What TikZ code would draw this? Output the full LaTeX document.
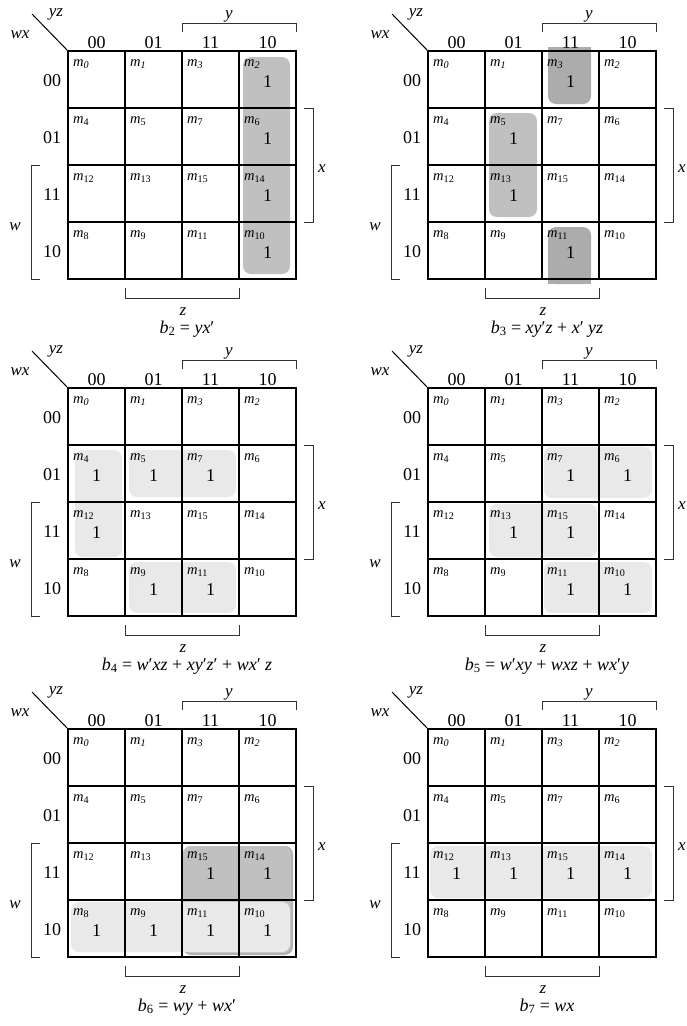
\documentclass[tikz,border=0pt]{standalone}
\usepackage{fontspec}
\setmainfont{Liberation Serif}
\definecolor{hlmid}{RGB}{192,192,192}
\definecolor{hldark}{RGB}{172,172,172}
\definecolor{hllight}{RGB}{233,233,233}
\definecolor{hledge}{RGB}{178,178,178}
\tikzset{
  gridline/.style={line width=1.7pt, line cap=rect},
  brk/.style={line width=0.8pt, black!80},
  lab/.style={font=\fontsize{18}{20}\selectfont, inner sep=0pt, anchor=base},
  var/.style={font=\fontsize{17}{19}\selectfont\itshape, inner sep=0pt, anchor=base},
  mlab/.style={font=\fontsize{14.5}{15}\selectfont, inner sep=0pt, anchor=base west},
  one/.style={font=\fontsize{18}{20}\selectfont, inner sep=0pt, anchor=base},
  formula/.style={font=\fontsize{18}{20}\selectfont, inner sep=0pt, anchor=base},
}
% #1 prefix, #2 list of ones c/r, #3 formula
\newcommand\kmapbody[3]{%
  \foreach \i in {0,...,4} {
    \draw[gridline] (\i*57,0) -- (\i*57,228);
    \draw[gridline] (0,\i*57) -- (228,\i*57);
  }
  \coordinate (#1-dg) at (-36,-37);
  \coordinate (#1-o) at (0,0);
  \draw[line width=1pt] (#1-dg) -- (#1-o);
  \node[var] (#1-yz) at (-12,-35) {yz};
  \node[var] (#1-wx) at (-48,-13) {wx};
  \foreach \t [count=\k from 0] in {00,01,11,10} {
    \node[lab] (#1-col\k) at (\k*57+28.5,-3) {\t};
    \node[lab] (#1-row\k) at (-16,\k*57+35) {\t};
  }
  \foreach \c/\r/\m in {0/0/{\textit{0}},1/0/{\textit{1}},2/0/{\textit{3}},3/0/{\textit{2}},
      0/1/4,1/1/5,2/1/7,3/1/6,0/2/12,1/2/13,2/2/15,3/2/14,0/3/8,1/3/9,2/3/11,3/3/10} {
    \node[mlab] (#1-m\c\r) at (\c*57+5,\r*57+15) {\textit{m}\textsubscript{\m}};
  }
  \foreach \c/\r in {#2} {
    \node[one] (#1-one\c\r) at (\c*57+28.5,\r*57+36) {1};
  }
  % y bracket
  \coordinate (#1-ya) at (114,-19); \coordinate (#1-yb) at (114,-28);
  \coordinate (#1-yc) at (228,-28); \coordinate (#1-yd) at (228,-19);
  \draw[brk] (#1-ya) -- (#1-yb) -- (#1-yc) -- (#1-yd);
  \node[var] (#1-y) at (161,-33) {y};
  % x bracket
  \coordinate (#1-xa) at (236,57); \coordinate (#1-xb) at (245,57);
  \coordinate (#1-xc) at (245,171); \coordinate (#1-xd) at (236,171);
  \draw[brk] (#1-xa) -- (#1-xb) -- (#1-xc) -- (#1-xd);
  \node[var] (#1-x) at (254,121) {x};
  % w bracket
  \coordinate (#1-wa) at (-28,114); \coordinate (#1-wb) at (-37,114);
  \coordinate (#1-wc) at (-37,228); \coordinate (#1-wd) at (-28,228);
  \draw[brk] (#1-wa) -- (#1-wb) -- (#1-wc) -- (#1-wd);
  \node[var] (#1-w) at (-53,179) {w};
  % z bracket
  \coordinate (#1-za) at (57,237); \coordinate (#1-zb) at (57,247);
  \coordinate (#1-zc) at (171,247); \coordinate (#1-zd) at (171,237);
  \draw[brk] (#1-za) -- (#1-zb) -- (#1-zc) -- (#1-zd);
  \node[var] (#1-z) at (115,264) {z};
  \node[formula] (#1-f) at (119,282) {#3};
}
\newcommand\vb[1]{\textit{#1}}
\begin{document}
\begin{tikzpicture}[x=1pt,y=-1pt]
\useasboundingbox (0,0) rectangle (686,1026);
\fill[white] (0,0) rectangle (686,1026);
% ---------- b2 ----------
\begin{scope}[shift={(68,51)}]
  \fill[hlmid, rounded corners=8pt] (175,6) rectangle (222,223);
  \kmapbody{a}{3/0,3/1,3/2,3/3}{\vb{b}\textsubscript{2} = \vb{yx}′}
\end{scope}
% ---------- b3 ----------
\begin{scope}[shift={(428,51)}]
  \fill[hldark, rounded corners=8pt] (120,-4) rectangle (163,53);
  \fill[hldark] (120,-4) rectangle (163,20);
  \fill[hldark, rounded corners=8pt] (120,176) rectangle (163,233);
  \fill[hldark] (120,200) rectangle (163,233);
  \fill[hlmid, rounded corners=8pt] (61,62) rectangle (109,166);
  \kmapbody{b}{2/0,1/1,1/2,2/3}{\vb{b}\textsubscript{3} = \vb{xy}′\vb{z} + \vb{x}′ \vb{yz}}
\end{scope}
% ---------- b4 ----------
\begin{scope}[shift={(68,388)}]
  \fill[hllight, rounded corners=8pt] (7,62) rectangle (54,169);
  \fill[hllight, rounded corners=8pt] (61,62) rectangle (168,109);
  \fill[hllight, rounded corners=8pt] (61,174) rectangle (168,225);
  \kmapbody{c}{0/1,1/1,2/1,0/2,1/3,2/3}{\vb{b}\textsubscript{4} = \vb{w}′\vb{xz} + \vb{xy}′\vb{z}′ + \vb{wx}′ \vb{z}}
\end{scope}
% ---------- b5 ----------
\begin{scope}[shift={(428,388)}]
  \fill[hllight, rounded corners=8pt] (116,59) rectangle (224,110);
  \fill[hllight, rounded corners=8pt] (61,116) rectangle (169,169);
  \fill[hllight, rounded corners=8pt] (116,174) rectangle (224,225);
  \kmapbody{d}{2/1,3/1,1/2,2/2,2/3,3/3}{\vb{b}\textsubscript{5} = \vb{w}′\vb{xy} + \vb{wxz} + \vb{wx}′\vb{y}}
\end{scope}
% ---------- b6 ----------
\begin{scope}[shift={(68,729)}]
  \fill[hledge, rounded corners=8pt] (115,117) rectangle (225,226);
  \fill[hlmid, rounded corners=8pt] (115,117) rectangle (223,224);
  \fill[hllight, rounded corners=8pt] (3,173) rectangle (222,223);
  \kmapbody{e}{2/2,3/2,0/3,1/3,2/3,3/3}{\vb{b}\textsubscript{6} = \vb{wy} + \vb{wx}′}
\end{scope}
% ---------- b7 ----------
\begin{scope}[shift={(428,729)}]
  \fill[hllight, rounded corners=8pt] (2,117) rectangle (224,169);
  \kmapbody{f}{0/2,1/2,2/2,3/2}{\vb{b}\textsubscript{7} = \vb{wx}}
\end{scope}
\end{tikzpicture}
\end{document}
